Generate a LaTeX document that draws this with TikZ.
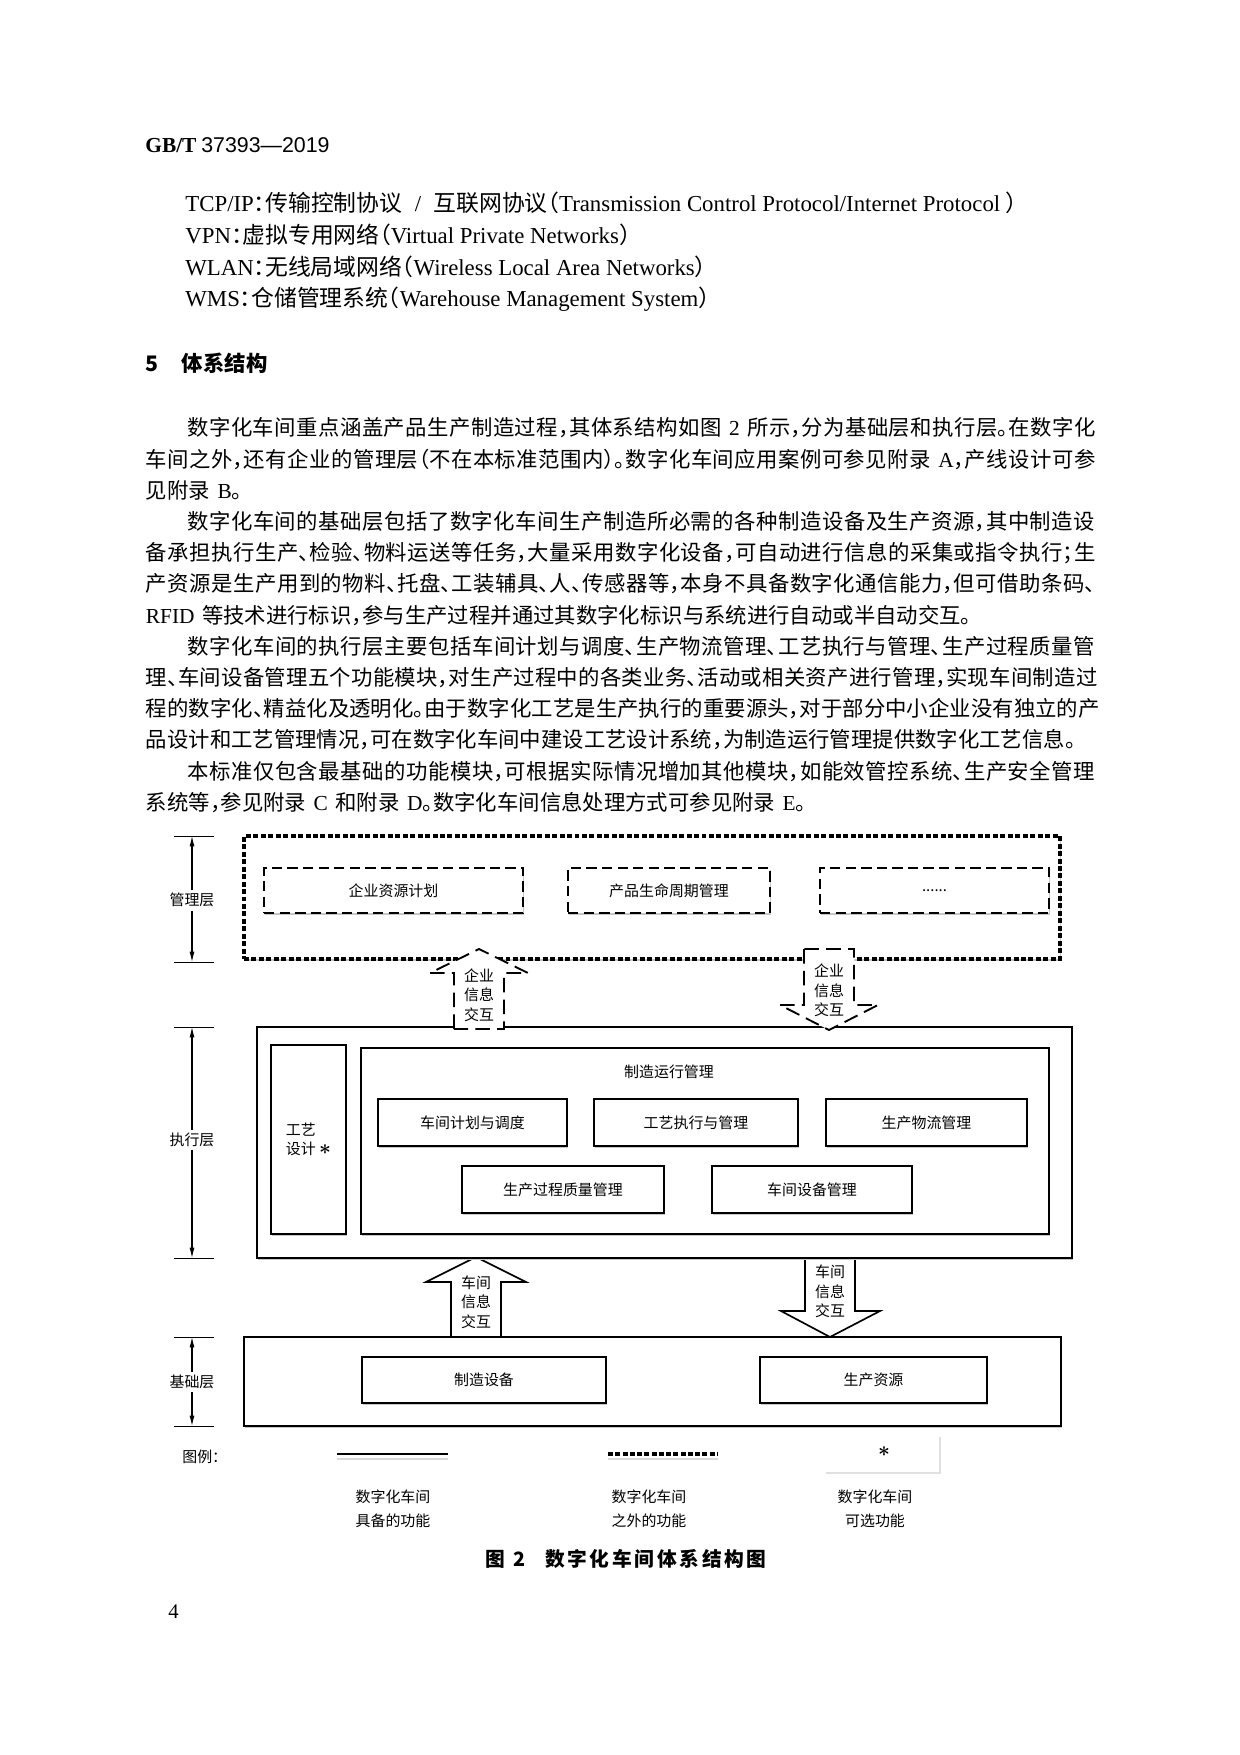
\documentclass[tikz,border=0pt]{standalone}
\usepackage{fontspec}
\setmainfont{Noto Sans CJK SC}
\newfontfamily\bodyfont[RawFeature=+halt]{Noto Sans CJK SC}
\newfontfamily\serifl{Liberation Serif}
\newfontfamily\sansl{Liberation Sans}
\newcommand\ltn[1]{{\serifl #1}}
\newcommand\gap{\hspace{0.35em}}
\newcommand\optmark{{\fontsize{10}{10}\selectfont\boldmath$\ast$}}
\usetikzlibrary{arrows.meta,positioning,shadows}
% let the CJK lines break and stretch between characters
\XeTeXlinebreaklocale "zh"
\XeTeXlinebreakskip=0pt plus 2pt minus 0.3pt
\newcommand\spaceout[1]{\spaceoutstep#1\relax}
\def\spaceoutstep#1{\ifx#1\relax\else#1\kern1.3pt\expandafter\spaceoutstep\fi}

\begin{document}
\begin{tikzpicture}[
  x=0.169355mm, y=-0.169355mm,
  body/.style={anchor=west, inner sep=0pt, font=\bodyfont\fontsize{10.3}{12}\selectfont},
  abbr/.style={body, font=\bodyfont\fontsize{11}{13}\selectfont},
  fullline/.style={body, text width=161.65mm, execute at begin node={\parfillskip=0pt\relax}},
  firstline/.style={body, text width=154.62mm, execute at begin node={\parfillskip=0pt\relax}},
  small/.style={font=\fontsize{7.2}{9.4}\selectfont},
  shade/.style={fill=white, drop shadow={shadow xshift=0.4pt, shadow yshift=-0.9pt, fill=black!22, opacity=1}},
  mgmt/.style={draw, shade, inner sep=0pt, line width=1.6pt, dash pattern=on 2.4pt off 1.2pt},
  mgmtbox/.style={draw, shade, inner sep=0pt, small, line width=1.1pt, dash pattern=on 5pt off 2.5pt},
  layer/.style={draw, shade, inner sep=0pt, line width=1.4pt},
  func/.style={draw, shade, inner sep=0pt, small, line width=0.9pt},
  dashblock/.style={draw, fill=white, line width=0.9pt, dash pattern=on 7pt off 3.5pt},
  solidblock/.style={draw, fill=white, line width=0.8pt},
  arrtext/.style={small, align=center, inner sep=0pt},
  dimlabel/.style={small, fill=white, inner sep=1.5pt},
  dimarrow/.style={-{Latex[length=5pt,width=2.4pt]}, line width=0.5pt}
]
\fill[white] (0,0) rectangle (1240,1755);
\useasboundingbox (0,0) rectangle (1240,1755);

% page head and abbreviations
\node[body, font=\fontsize{10.3}{12}\selectfont] (head) at (145,145) {{\serifl\bfseries GB/T} {\sansl 37393—2019}};
\node[abbr] (abbr1) at (185,203) {\ltn{TCP/IP}：传输控制协议\hspace{6pt}\ltn{/}\hspace{6pt}互联网协议（\ltn{Transmission Control Protocol/Internet Protocol }）};
\node[abbr] (abbr2) at (185,235) {\ltn{VPN}：虚拟专用网络（\ltn{Virtual Private Networks}）};
\node[abbr] (abbr3) at (185,267) {\ltn{WLAN}：无线局域网络（\ltn{Wireless Local Area Networks}）};
\node[abbr] (abbr4) at (185,299) {\ltn{WMS}：仓储管理系统（\ltn{Warehouse Management System}）};

% clause 5
\node[body, font=\fontsize{10.3}{12}\selectfont\bfseries] (sec) at (145,363) {5\hspace{1.1em}体系结构};

\node[firstline] (p1a) at (187,428) {数字化车间重点涵盖产品生产制造过程，其体系结构如图\gap\ltn{2}\gap 所示，分为基础层和执行层。在数字化};
\node[fullline] (p1b) at (145.5,459.2) {车间之外，还有企业的管理层（不在本标准范围内）。数字化车间应用案例可参见附录\gap\ltn{A}，产线设计可参};
\node[body] (p1c) at (145.5,490.4) {见附录\gap\ltn{B}。};

\node[firstline] (p2a) at (187,521.6) {数字化车间的基础层包括了数字化车间生产制造所必需的各种制造设备及生产资源，其中制造设};
\node[fullline] (p2b) at (145.5,552.8) {备承担执行生产、检验、物料运送等任务，大量采用数字化设备，可自动进行信息的采集或指令执行；生};
\node[fullline] (p2c) at (145.5,584) {产资源是生产用到的物料、托盘、工装辅具、人、传感器等，本身不具备数字化通信能力，但可借助条码、};
\node[body] (p2d) at (145.5,615.2) {\ltn{RFID}\gap 等技术进行标识，参与生产过程并通过其数字化标识与系统进行自动或半自动交互。};

\node[firstline] (p3a) at (187,646.4) {数字化车间的执行层主要包括车间计划与调度、生产物流管理、工艺执行与管理、生产过程质量管};
\node[fullline] (p3b) at (145.5,677.6) {理、车间设备管理五个功能模块，对生产过程中的各类业务、活动或相关资产进行管理，实现车间制造过};
\node[fullline] (p3c) at (145.5,708.8) {程的数字化、精益化及透明化。由于数字化工艺是生产执行的重要源头，对于部分中小企业没有独立的产};
\node[body] (p3d) at (145.5,740) {品设计和工艺管理情况，可在数字化车间中建设工艺设计系统，为制造运行管理提供数字化工艺信息。};

\node[firstline] (p4a) at (187,771.2) {本标准仅包含最基础的功能模块，可根据实际情况增加其他模块，如能效管控系统、生产安全管理};
\node[body] (p4b) at (145.5,802.4) {系统等，参见附录\gap\ltn{C}\gap 和附录\gap\ltn{D}。数字化车间信息处理方式可参见附录\gap\ltn{E}。};

% layer brackets
\coordinate (mtop) at (192,836);
\coordinate (mbot) at (192,962);
\coordinate (etop) at (192,1027);
\coordinate (ebot) at (192,1258);
\coordinate (btop) at (192,1337);
\coordinate (bbot) at (192,1426);
\draw (174,836) -- (214,836);
\draw (174,962) -- (214,962);
\draw (174,1027) -- (214,1027);
\draw (174,1258) -- (214,1258);
\draw (174,1337) -- (214,1337);
\draw (174,1426) -- (214,1426);
\node[dimlabel] (mlbl) at (192,900) {管理层};
\node[dimlabel] (elbl) at (192,1140) {执行层};
\node[dimlabel] (blbl) at (192,1382) {基础层};
\draw[dimarrow] (mlbl) -- (mtop);
\draw[dimarrow] (mlbl) -- (mbot);
\draw[dimarrow] (elbl) -- (etop);
\draw[dimarrow] (elbl) -- (ebot);
\draw[dimarrow] (blbl) -- (btop);
\draw[dimarrow] (blbl) -- (bbot);

% management layer (outside the workshop)
\node[mgmt, minimum width=138.19mm, minimum height=20.83mm] (mgmt) at (652,897.5) {};
\node[mgmtbox, minimum width=43.86mm, minimum height=7.62mm] (erp) at (393.5,890.5) {企业资源计划};
\node[mgmtbox, minimum width=34.21mm, minimum height=7.62mm] (plm) at (669,890.5) {产品生命周期管理};
\node[mgmtbox, minimum width=38.78mm, minimum height=7.62mm] (more) at (934.5,890.5) {......};

% workshop information exchange (drawn under the boxes)
\draw[solidblock] (451,1337) -- (451,1282) -- (426,1282) -- (476,1257) -- (526,1282) -- (501,1282) -- (501,1337) -- cycle;
\draw[solidblock] (805,1257) -- (805,1311) -- (781,1311) -- (830,1337) -- (880,1311) -- (855,1311) -- (855,1257) -- cycle;
\node[arrtext] (wup) at (476,1302) {车间\\信息\\交互};
\node[arrtext] (wdown) at (830,1291.5) {车间\\信息\\交互};

% execution layer
\node[layer, minimum width=138.02mm, minimum height=39.12mm] (exec) at (664.5,1142.5) {};
\node[func, align=left, minimum width=12.70mm, minimum height=32.01mm] (craft) at (308.5,1139.5) {工艺\\设计 \optmark};
\node[func, minimum width=116.52mm, minimum height=31.50mm] (mom) at (705,1141) {};
\node[small] (momtitle) at (669,1072) {制造运行管理};
\node[func, minimum width=32.01mm, minimum height=7.96mm] (plan) at (472.5,1122.5) {车间计划与调度};
\node[func, minimum width=34.55mm, minimum height=7.96mm] (proc) at (696,1122.5) {工艺执行与管理};
\node[func, minimum width=34.04mm, minimum height=7.96mm] (logi) at (926.5,1122.5) {生产物流管理};
\node[func, minimum width=34.21mm, minimum height=7.96mm] (qual) at (563,1189.5) {生产过程质量管理};
\node[func, minimum width=33.87mm, minimum height=7.96mm] (equip) at (812,1189.5) {车间设备管理};

% basic layer
\node[layer, minimum width=138.36mm, minimum height=15.07mm] (base) at (652.5,1381.5) {};
\node[func, minimum width=41.32mm, minimum height=7.79mm] (dev) at (484,1380) {制造设备};
\node[func, minimum width=38.44mm, minimum height=7.79mm] (res) at (873.5,1380) {生产资源};

% enterprise information exchange (drawn over the boxes)
\draw[dashblock] (454,1029) -- (454,973) -- (430,973) -- (479,949) -- (528,973) -- (504,973) -- (504,1029) -- cycle;
\draw[dashblock] (804,949) -- (804,1005) -- (780,1005) -- (829,1030) -- (878,1005) -- (854,1005) -- (854,949) -- cycle;
\node[arrtext] (eup) at (479,995) {企业\\信息\\交互};
\node[arrtext] (edown) at (829,990.5) {企业\\信息\\交互};

% legend
\node[small, anchor=west] (legend) at (175,1457) {图例：};
\coordinate (ls1) at (337,1454);
\coordinate (le1) at (448,1454);
\coordinate (ls2) at (608,1454);
\coordinate (le2) at (718,1454);
\draw[black!15, line width=1.2pt] (337,1459) -- (448,1459);
\draw[black!15, line width=1.2pt] (608,1459) -- (718,1459);
\draw[line width=1.1pt] (ls1) -- (le1);
\draw[line width=1.8pt, dash pattern=on 2.4pt off 1.1pt] (ls2) -- (le2);
\node[small] (star) at (884,1452) {\optmark};
\draw[black!12, line width=1pt] (826,1473) -- (940,1473) -- (940,1437);
\node[small, align=center] (lg1) at (393,1509) {数字化车间\\[2.2pt]具备的功能};
\node[small, align=center] (lg2) at (649,1509) {数字化车间\\[2.2pt]之外的功能};
\node[small, align=center] (lg3) at (875,1509) {数字化车间\\[2.2pt]可选功能};

% caption and page number
\node[anchor=west, inner sep=0pt, font=\fontsize{9.5}{11}\selectfont\bfseries] (cap) at (485,1559) {图\hspace{4pt}2\hspace{1em}\spaceout{数字化车间体系结构图}};
\node[anchor=west, inner sep=0pt, font=\fontsize{10}{12}\selectfont\serifl] (pgno) at (168,1612) {4};
\end{tikzpicture}
\end{document}
